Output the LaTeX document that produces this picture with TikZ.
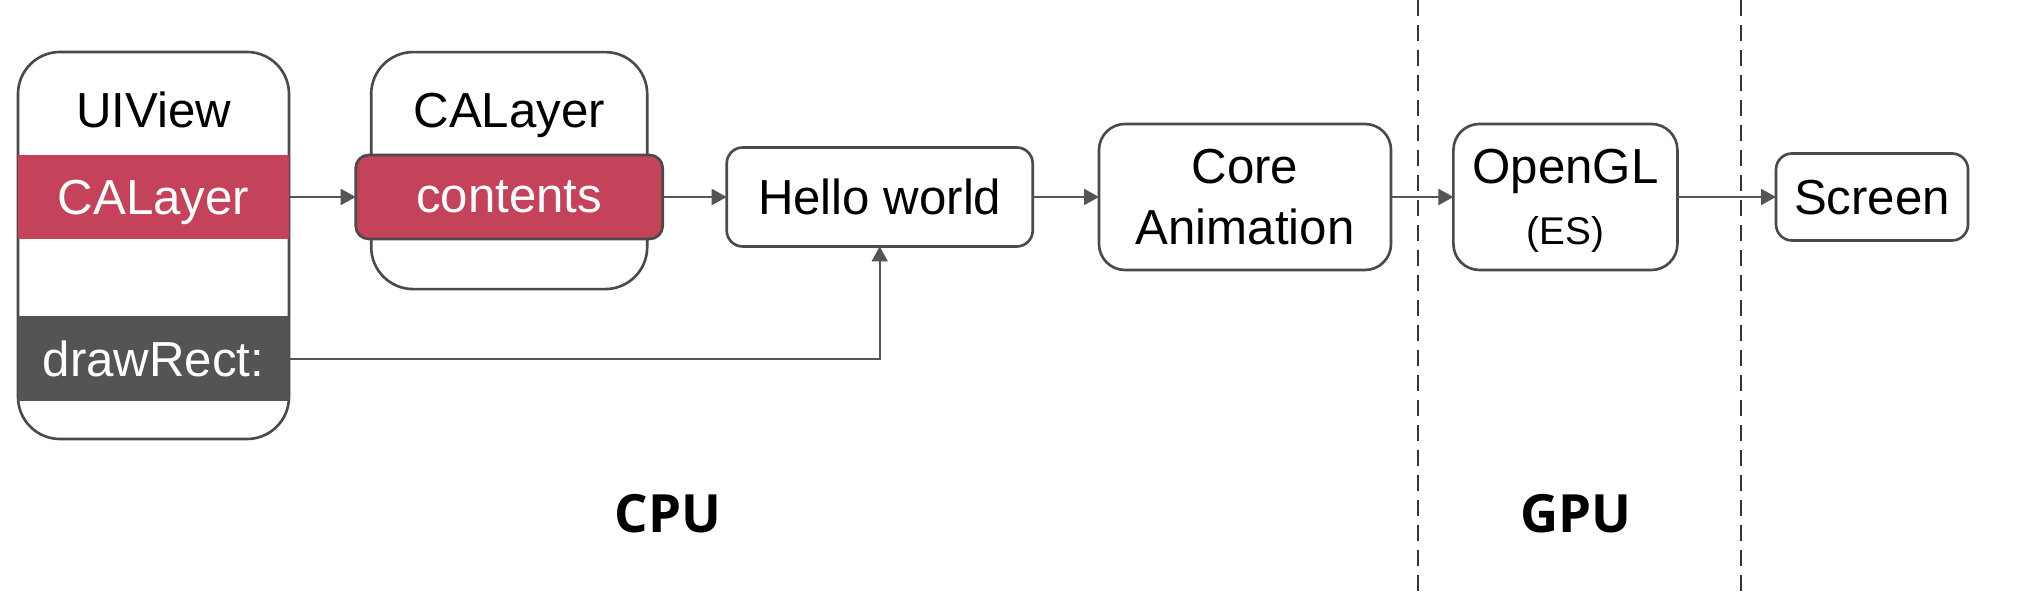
\documentclass[tikz,border=0pt]{standalone}
\usepackage{fontspec}
\setmainfont{Liberation Sans}
\newfontfamily\regionfont{Open Sans}
\usetikzlibrary{arrows.meta}
\definecolor{bandred}{HTML}{C4425A}
\definecolor{banddark}{HTML}{545454}
\definecolor{edgegray}{HTML}{4A4A4A}
\definecolor{flowgray}{HTML}{555555}

\begin{document}
\begin{tikzpicture}[
        boxtext/.style={font=\fontsize{14}{17.4}\selectfont,text depth=0pt,align=center,inner sep=0pt},
        box/.style={draw=edgegray,line width=0.75pt,rounded corners=#1,outer sep=0pt,inner sep=0pt},
        box/.default=0.16cm,
        band/.style={boxtext,text=white,minimum width=2.71cm,minimum height=0.84cm,outer sep=0pt},
        flow/.style={draw=flowgray,line width=0.6pt,-{Triangle[length=0.15cm,width=0.16cm]}},
        divider/.style={draw=black!80,line width=0.6pt,dash pattern=on 0.16cm off 0.09cm},
        regiontext/.style={font=\regionfont\bfseries\fontsize{15}{18}\selectfont,inner sep=0pt}
    ]
    \useasboundingbox (0,0) rectangle (20.42,-5.96);

    % UIView with its layer and drawRect:
    \node[box=0.42cm,minimum width=2.71cm,minimum height=3.87cm] (uiview) at (1.535,-2.455) {};
    \node[boxtext,anchor=base] (uiviewtitle) at (1.535,-1.275) {UIView};
    \node[band,fill=bandred] (uilayer) at (1.535,-1.97) {CALayer};
    \node[band,fill=banddark,minimum height=0.85cm] (drawrect) at (1.535,-3.588) {drawRect:};

    % CALayer with contents
    \node[box=0.42cm,minimum width=2.76cm,minimum height=2.37cm] (calayer) at (5.092,-1.706) {};
    \node[boxtext,anchor=base] (calayertitle) at (5.092,-1.275) {CALayer};
    \node[band,fill=bandred,draw=edgegray,line width=0.75pt,rounded corners=0.13cm,
          minimum width=3.07cm] (contents) at (5.092,-1.97) {contents};

    % pipeline
    \node[box,boxtext,minimum width=3.06cm,minimum height=0.99cm] (hello) at (8.797,-1.97) {Hello world};
    \node[box=0.26cm,boxtext,minimum width=2.92cm,minimum height=1.46cm] (core) at (12.45,-1.97) {Core\\Animation};
    \node[box=0.26cm,boxtext,minimum width=2.24cm,minimum height=1.46cm] (opengl) at (15.654,-1.97)
        {OpenGL\\{\fontsize{11}{13}\selectfont (ES)}};
    \node[box,boxtext,minimum width=1.92cm,minimum height=0.87cm] (screen) at (18.72,-1.97) {Screen};

    \draw[flow] (uilayer) -- (contents);
    \draw[flow] (contents) -- (hello);
    \draw[flow] (hello) -- (core);
    \draw[flow] (core) -- (opengl);
    \draw[flow] (opengl) -- (screen);
    \draw[flow] (drawrect.east) -| (hello.south);

    % CPU | GPU | display
    \draw[divider] (14.18,0) -- (14.18,-5.96);
    \draw[divider] (17.41,0) -- (17.41,-5.96);
    \node[regiontext] (cpu) at (6.68,-5.14) {CPU};
    \node[regiontext] (gpu) at (15.76,-5.14) {GPU};
\end{tikzpicture}
\end{document}
